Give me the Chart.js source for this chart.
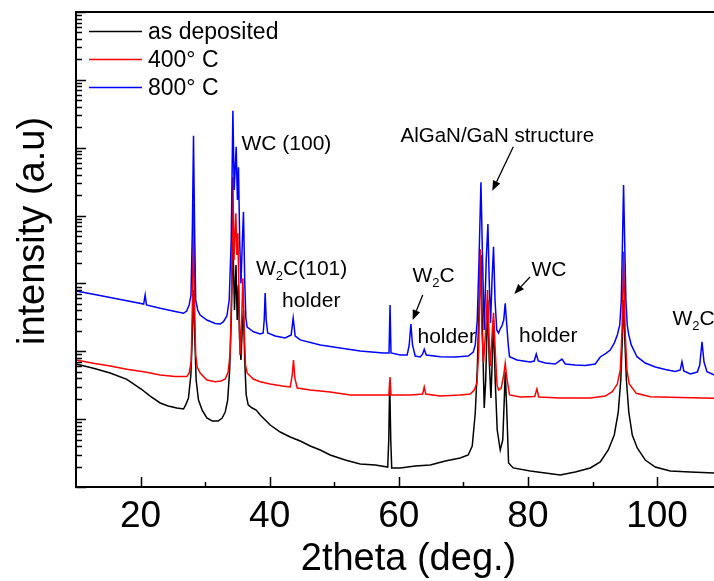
<!DOCTYPE html>
<html>
<head>
<meta charset="utf-8">
<script src="https://cdn.jsdelivr.net/npm/chart.js@4.4.1/dist/chart.umd.min.js"></script>
<style>
  html, body { margin: 0; padding: 0; background: #fff; overflow: hidden; }
  #wrap { width: 742px; height: 581px; }
</style>
</head>
<body>
<div id="wrap"><canvas id="c" width="742" height="581"></canvas></div>
<script>
// ---------------- data (2theta in degrees, intensity in a.u.) ----------------
const seriesNames = ["as deposited", "400\u00b0 C", "800\u00b0 C"];

const blackTheta = [10.02, 12.70, 15.29, 17.88, 20.09, 21.49, 23.04, 24.28, 25.62, 26.65, 26.99, 27.42, 27.79, 27.99, 28.20, 28.41, 28.61, 28.97, 29.54, 30.27, 31.09, 32.02, 32.64, 33.11, 33.49, 33.80, 34.04, 34.30, 34.55, 34.78, 34.97, 35.15, 35.34, 35.55, 35.74, 35.94, 36.13, 36.36, 36.67, 37.29, 37.91, 38.53, 40.08, 41.63, 43.18, 44.73, 46.28, 47.83, 49.37, 51.70, 54.02, 56.35, 58.28, 58.44, 58.59, 58.75, 58.90, 60.22, 62.54, 64.87, 67.19, 69.51, 70.75, 71.37, 71.84, 72.15, 72.46, 72.72, 72.95, 73.23, 73.46, 73.77, 74.00, 74.27, 74.47, 74.67, 74.93, 75.24, 75.71, 76.10, 76.33, 76.48, 76.72, 77.00, 77.72, 80.36, 82.68, 85.00, 87.33, 89.66, 91.20, 92.44, 93.37, 93.99, 94.38, 94.61, 94.81, 95.01, 95.25, 95.62, 96.16, 96.93, 98.17, 99.72, 102.04, 105.14, 108.86, 112.89];
const blackCounts = [64.9, 56.1, 47.9, 38.6, 27.8, 21.9, 17.3, 15.6, 14.6, 14.1, 16.2, 20.5, 44.7, 146.6, 800, 146.6, 37.7, 19.1, 13.6, 10.4, 9.39, 9.39, 10.4, 12.7, 19.1, 53.0, 289, 4365, 406, 1868, 289, 948, 146.6, 74.4, 206, 406, 74.4, 22.7, 16.2, 14.6, 13.6, 11.5, 8.20, 6.46, 5.46, 4.76, 4.02, 3.51, 2.96, 2.50, 2.18, 2.11, 1.97, 4.93, 35.3, 4.93, 1.91, 1.91, 2.04, 2.11, 2.42, 2.68, 2.96, 4.02, 12.3, 53.0, 570, 2623, 206, 14.6, 37.7, 570, 74.4, 20.5, 74.4, 289, 37.7, 6.92, 3.51, 4.93, 19.1, 49.5, 13.6, 2.26, 1.91, 1.72, 1.61, 1.50, 1.66, 1.91, 2.34, 3.51, 5.84, 12.7, 37.7, 146.6, 570, 146.6, 37.7, 12.7, 5.84, 3.76, 2.50, 1.97, 1.72, 1.66, 1.61, 1.55];

const redTheta = [10.02, 12.70, 15.29, 17.88, 20.71, 23.04, 25.36, 27.17, 27.53, 27.84, 28.04, 28.20, 28.35, 28.54, 28.77, 29.23, 30.27, 31.56, 32.49, 33.11, 33.57, 33.88, 34.11, 34.30, 34.47, 34.76, 34.92, 35.07, 35.23, 35.40, 35.66, 35.85, 36.05, 36.25, 36.51, 37.44, 38.53, 40.08, 41.94, 43.18, 43.49, 43.69, 43.89, 44.26, 46.28, 49.37, 52.47, 55.57, 58.48, 58.64, 58.79, 61.77, 63.70, 63.94, 64.17, 66.41, 69.51, 71.06, 71.68, 72.10, 72.38, 72.61, 72.86, 73.12, 73.46, 73.74, 73.97, 74.16, 74.39, 74.67, 74.93, 75.21, 75.45, 75.86, 76.25, 76.48, 76.72, 77.15, 78.81, 81.05, 81.39, 81.67, 85.00, 89.66, 91.98, 93.06, 93.84, 94.30, 94.58, 94.81, 95.05, 95.33, 95.69, 96.78, 98.95, 103.59, 108.86, 112.89];
const redCounts = [74.4, 66.5, 60.7, 54.3, 49.5, 44.7, 42.5, 42.4, 47.9, 69.5, 570, 15160, 570, 88.1, 58.7, 47.9, 37.7, 35.6, 36.5, 39.0, 49.5, 94.3, 800, 36630, 2214, 10800, 2623, 5478, 800, 88.1, 289, 1190, 206, 62.8, 47.9, 39.0, 35.6, 32.9, 30.8, 29.8, 44.7, 74.4, 40.4, 28.8, 26.9, 25.1, 22.7, 22.7, 22.7, 41.8, 22.7, 22.7, 23.5, 29.8, 23.5, 21.9, 22.7, 23.5, 26.9, 34.1, 104.4, 3183, 206, 67.2, 206, 800, 146.6, 60.7, 146.6, 370, 104.4, 31.9, 26.9, 28.8, 44.7, 66.5, 40.4, 22.7, 21.2, 21.6, 27.8, 21.2, 20.5, 20.5, 21.9, 25.4, 32.9, 53.0, 206, 2934, 206, 53.0, 32.9, 24.0, 21.4, 20.8, 20.3, 19.8];

const blueTheta = [10.02, 12.70, 15.29, 17.88, 20.48, 20.71, 20.91, 23.04, 25.36, 26.65, 27.14, 27.53, 27.81, 28.02, 28.20, 28.37, 28.54, 28.85, 29.23, 30.27, 31.56, 32.33, 32.84, 33.37, 33.73, 34.04, 34.30, 34.50, 34.81, 35.00, 35.17, 35.35, 35.55, 35.77, 35.94, 36.13, 36.31, 36.51, 37.49, 38.53, 38.99, 39.15, 39.30, 39.46, 39.69, 40.85, 42.40, 43.33, 43.64, 43.95, 44.73, 47.83, 50.92, 54.02, 57.58, 58.48, 58.64, 58.79, 60.22, 61.30, 61.61, 61.87, 62.12, 62.54, 63.32, 63.70, 63.94, 64.25, 66.41, 68.74, 70.75, 71.53, 71.84, 72.15, 72.42, 72.72, 72.97, 73.23, 73.54, 73.80, 74.00, 74.21, 74.44, 74.67, 74.90, 75.17, 75.45, 75.76, 75.97, 76.25, 76.48, 76.72, 76.95, 77.15, 78.30, 80.36, 80.98, 81.29, 81.60, 82.68, 84.23, 85.27, 85.78, 87.33, 88.88, 90.43, 91.20, 92.13, 92.75, 93.37, 93.84, 94.22, 94.46, 94.65, 94.81, 94.98, 95.17, 95.38, 95.62, 96.00, 96.89, 98.17, 99.72, 101.27, 102.82, 103.59, 103.86, 104.14, 105.14, 106.23, 106.61, 106.96, 107.27, 107.73, 108.86, 111.03, 112.89];
const blueCounts = [773, 691, 620, 556, 497, 675, 481, 430, 386, 363, 392, 481, 675, 6126, 150300, 6126, 570, 406, 342, 289, 257, 252, 273, 331, 570, 4365, 351200, 23800, 103400, 16960, 51420, 4365, 1000, 4365, 11400, 1123, 309, 228, 194, 180, 186, 289, 722, 289, 186, 168, 157, 174, 309, 168, 147, 124, 112, 101, 94.3, 94.3, 481, 94.3, 88.1, 88.1, 124, 252, 124, 85.2, 82.4, 91.2, 107, 88.1, 83.2, 82.4, 85.2, 97.6, 124, 289, 2214, 30920, 2214, 206, 2214, 7509, 1123, 261, 1123, 3476, 570, 206, 186, 220, 236, 289, 509, 244, 124, 83.2, 74.4, 69.5, 71.9, 91.2, 71.9, 67.2, 64.9, 76.9, 64.9, 62.8, 61.7, 64.9, 82.4, 94.3, 104.4, 132, 174, 244, 570, 4365, 28210, 4365, 570, 244, 174, 124, 83.2, 67.2, 58.7, 53.9, 50.4, 53.0, 70.2, 51.2, 46.3, 49.5, 62.8, 138.4, 69.5, 50.0, 44.7, 43.2, 41.8];

// axis ticks
const xTickLabels = [20, 40, 60, 80, 100];
const xMinorTicks = [30, 50, 70, 90, 110];
const yDecades = [1, 10, 100, 1000, 10000, 100000, 1000000, 10000000];

// ---------------- chart ----------------
const FONT = '"Liberation Sans", Arial, Helvetica, sans-serif';

function pts(xs, ys) { return xs.map((x, i) => ({ x: x, y: ys[i] })); }

const decor = {
  id: 'decor',
  beforeDraw(chart) {
    const ctx = chart.ctx;
    ctx.save();
    ctx.fillStyle = '#fff';
    ctx.fillRect(0, 0, chart.width, chart.height);
    ctx.restore();
  },
  afterDatasetsDraw(chart) {
    const ctx = chart.ctx, ca = chart.chartArea;
    const xs = chart.scales.x, ys = chart.scales.y;
    ctx.save();
    ctx.strokeStyle = '#000';
    ctx.fillStyle = '#000';

    // frame
    ctx.lineWidth = 2;
    ctx.beginPath();
    ctx.moveTo(ca.left, ca.top);
    ctx.lineTo(ca.right, ca.top);
    ctx.lineTo(ca.right, ca.bottom);
    ctx.lineTo(ca.left, ca.bottom);
    ctx.closePath();
    ctx.stroke();

    // x ticks (inward)
    ctx.lineWidth = 1.5;
    ctx.beginPath();
    xTickLabels.forEach(v => {
      const p = Math.round(xs.getPixelForValue(v)) + 0.5;
      ctx.moveTo(p, ca.bottom); ctx.lineTo(p, ca.bottom - 10);
    });
    xMinorTicks.forEach(v => {
      const p = Math.round(xs.getPixelForValue(v)) + 0.5;
      ctx.moveTo(p, ca.bottom); ctx.lineTo(p, ca.bottom - 5);
    });
    // y ticks (inward, log)
    yDecades.forEach((d, i) => {
      const p = Math.round(ys.getPixelForValue(d)) + 0.5;
      ctx.moveTo(ca.left, p); ctx.lineTo(ca.left + 10, p);
      if (i < yDecades.length - 1) {
        for (let m = 2; m <= 9; m++) {
          const q = Math.round(ys.getPixelForValue(d * m)) + 0.5;
          ctx.moveTo(ca.left, q); ctx.lineTo(ca.left + 6, q);
        }
      }
    });
    ctx.stroke();

    // x tick labels
    ctx.font = '37px ' + FONT;
    ctx.textAlign = 'center';
    ctx.textBaseline = 'alphabetic';
    xTickLabels.forEach(v => {
      ctx.fillText(String(v), xs.getPixelForValue(v), 527);
    });

    // axis titles
    ctx.font = '38px ' + FONT;
    ctx.fillText('2theta (deg.)', (ca.left + ca.right) / 2, 570);
    ctx.save();
    ctx.translate(44, 231);
    ctx.rotate(-Math.PI / 2);
    ctx.fillText('intensity (a.u)', 0, 0);
    ctx.restore();

    // legend
    const legColors = ['#000000', '#ff0000', '#0000ff'];
    const legY = [31.5, 59.5, 87.5];
    ctx.font = '23px ' + FONT;
    ctx.textAlign = 'left';
    ctx.textBaseline = 'middle';
    seriesNames.forEach((n, i) => {
      ctx.strokeStyle = legColors[i];
      ctx.lineWidth = 1.4;
      ctx.beginPath();
      ctx.moveTo(89, legY[i]); ctx.lineTo(142, legY[i]);
      ctx.stroke();
      ctx.fillStyle = '#000';
      ctx.fillText(n, 148, legY[i] + 1);
    });

    // annotations
    ctx.textBaseline = 'alphabetic';
    ctx.fillStyle = '#000';
    const big = '21px ' + FONT, small = '13px ' + FONT;
    function rich(parts, x, y) {
      let cx = x;
      parts.forEach(p => {
        ctx.font = p[1] ? small : big;
        ctx.fillText(p[0], cx, y + (p[1] ? 5 : 0));
        cx += ctx.measureText(p[0]).width;
      });
    }
    function arrow(x1, y1, x2, y2) {
      ctx.strokeStyle = '#000';
      ctx.lineWidth = 1.3;
      const a = Math.atan2(y2 - y1, x2 - x1);
      const L = 10, W = 4;
      const bx = x2 - L * Math.cos(a), by = y2 - L * Math.sin(a);
      ctx.beginPath(); ctx.moveTo(x1, y1); ctx.lineTo(bx, by); ctx.stroke();
      ctx.beginPath();
      ctx.moveTo(x2, y2);
      ctx.lineTo(bx + W * Math.sin(a), by - W * Math.cos(a));
      ctx.lineTo(bx - W * Math.sin(a), by + W * Math.cos(a));
      ctx.closePath(); ctx.fill();
    }
    rich([['WC (100)']], 241.5, 150);
    rich([['W'], ['2', 1], ['C(101)']], 256, 275);
    rich([['holder']], 282, 306.5);
    rich([['W'], ['2', 1], ['C']], 412.5, 281.5);
    arrow(422.7, 295, 412.7, 320);
    rich([['holder']], 417.5, 342.5);
    rich([['WC']], 531.5, 276);
    arrow(530, 277, 514.3, 294);
    rich([['holder']], 519, 342);
    ctx.font = '20.5px ' + FONT;
    ctx.fillText('AlGaN/GaN structure', 400.5, 141.5);
    arrow(513.3, 146.7, 492.3, 190.7);
    rich([['W'], ['2', 1], ['C']], 672.5, 325);

    ctx.restore();
  }
};

new Chart(document.getElementById('c'), {
  type: 'line',
  data: {
    datasets: [
      { label: seriesNames[2], data: pts(blueTheta, blueCounts), borderColor: '#0000ff', order: 0 },
      { label: seriesNames[1], data: pts(redTheta, redCounts), borderColor: '#ff0000', order: 1 },
      { label: seriesNames[0], data: pts(blackTheta, blackCounts), borderColor: '#000000', order: 2 }
    ]
  },
  options: {
    responsive: false,
    devicePixelRatio: 1,
    animation: false,
    parsing: false,
    normalized: true,
    elements: {
      line: { borderWidth: 1.5, tension: 0, fill: false },
      point: { radius: 0, hoverRadius: 0 }
    },
    layout: { padding: { left: 76, right: 1, top: 12, bottom: 94 } },
    plugins: { legend: { display: false }, tooltip: { enabled: false } },
    scales: {
      x: { type: 'linear', min: 10, max: 113, display: false },
      y: { type: 'logarithmic', min: 1, max: 10000000, display: false }
    }
  },
  plugins: [decor]
});
</script>
</body>
</html>
